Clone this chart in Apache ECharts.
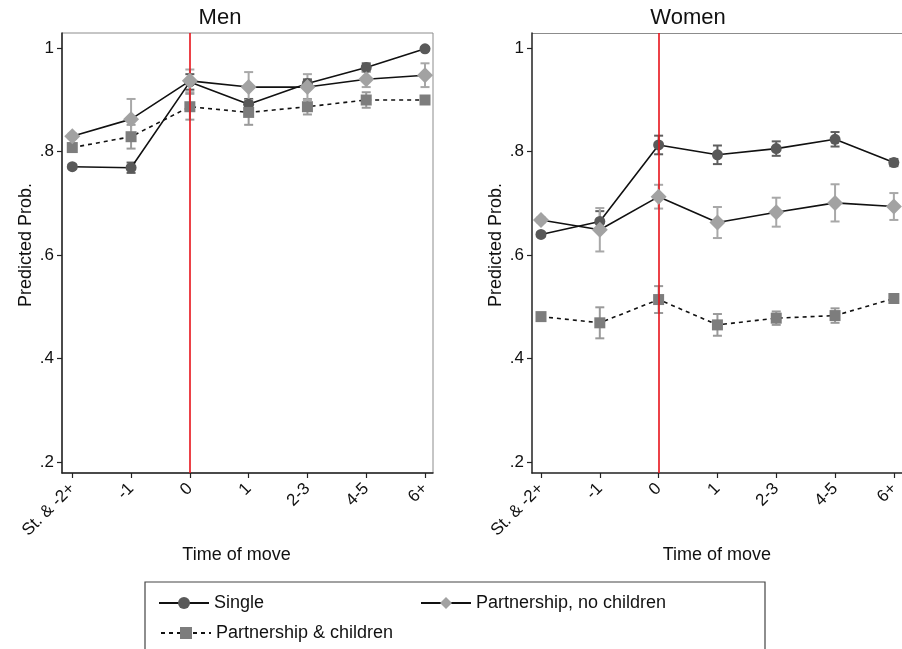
<!DOCTYPE html>
<html>
<head>
<meta charset="utf-8">
<title>Predicted probability by time of move</title>
<script src="https://cdn.jsdelivr.net/npm/echarts@6/dist/echarts.min.js"></script>
<style>
  html, body { margin: 0; padding: 0; background: #fff; }
  #chart { width: 902px; height: 649px; }
</style>
</head>
<body>
<div id="chart"></div>
<script>
// Time-of-move categories on the x axis
const categories = ['St. & -2+', '-1', '0', '1', '2-3', '4-5', '6+'];
const moveCategory = '0';
const yTicks = [0.2, 0.4, 0.6, 0.8, 1];

// Men: predicted probabilities and half-widths of the confidence intervals
const menSingle = [0.771, 0.769, 0.935, 0.892, 0.932, 0.963, 0.999];
const menSingleErr = [0.004, 0.010, 0.015, 0.010, 0.008, 0.008, 0.003];
const menNoChildren = [0.830, 0.863, 0.937, 0.925, 0.925, 0.940, 0.948];
const menNoChildrenErr = [0.005, 0.039, 0.022, 0.029, 0.025, 0.015, 0.023];
const menChildren = [0.808, 0.829, 0.887, 0.876, 0.887, 0.900, 0.900];
const menChildrenErr = [0.005, 0.023, 0.025, 0.024, 0.015, 0.015, 0.005];

// Women
const womenSingle = [0.640, 0.665, 0.813, 0.794, 0.806, 0.824, 0.779];
const womenSingleErr = [0.004, 0.020, 0.018, 0.018, 0.014, 0.014, 0.007];
const womenNoChildren = [0.668, 0.649, 0.713, 0.663, 0.683, 0.701, 0.694];
const womenNoChildrenErr = [0.005, 0.042, 0.023, 0.030, 0.028, 0.036, 0.026];
const womenChildren = [0.481, 0.469, 0.514, 0.465, 0.478, 0.483, 0.516];
const womenChildrenErr = [0.004, 0.030, 0.026, 0.021, 0.013, 0.014, 0.005];

const FONT = '"Liberation Sans", Arial, Helvetica, sans-serif';
const INK = '#111111';
const FRAME = '#8c8c8c';

const NAMES = {
  single: 'Single',
  noChildren: 'Partnership, no children',
  children: 'Partnership & children'
};
const STYLE = {
  single: { symbol: 'circle', size: 11, fill: '#595959', bar: '#5e5e5e', line: 'solid' },
  noChildren: { symbol: 'diamond', size: 16, fill: '#a2a2a2', bar: '#a8a8a8', line: 'solid' },
  children: { symbol: 'rect', size: 11, fill: '#7d7d7d', bar: '#9a9a9a', line: [4, 4] }
};

function pairs(values) {
  return values.map((v, i) => [i, v]);
}

function bounds(values, errs) {
  return values.map((v, i) => [i, v - errs[i], v + errs[i]]);
}

// Vertical CI bar with caps
function errorBar(color) {
  return function (params, api) {
    const x = api.value(0);
    const lo = api.coord([x, api.value(1)]);
    const hi = api.coord([x, api.value(2)]);
    const cap = 4.5;
    const s = { stroke: color, lineWidth: 2 };
    return {
      type: 'group',
      children: [
        { type: 'line', shape: { x1: lo[0], y1: lo[1], x2: hi[0], y2: hi[1] }, style: s },
        { type: 'line', shape: { x1: lo[0] - cap, y1: lo[1], x2: lo[0] + cap, y2: lo[1] }, style: s },
        { type: 'line', shape: { x1: hi[0] - cap, y1: hi[1], x2: hi[0] + cap, y2: hi[1] }, style: s }
      ]
    };
  };
}

function lineSeries(key, values, axisIndex, z) {
  const st = STYLE[key];
  return {
    name: NAMES[key],
    type: 'line',
    xAxisIndex: axisIndex,
    yAxisIndex: axisIndex,
    data: pairs(values),
    symbol: st.symbol,
    symbolSize: st.size,
    showAllSymbol: true,
    itemStyle: { color: st.fill, borderWidth: 0 },
    lineStyle: { color: INK, width: 1.6, type: st.line },
    emphasis: { disabled: true },
    z: z
  };
}

function errSeries(key, values, errs, axisIndex) {
  return {
    type: 'custom',
    xAxisIndex: axisIndex,
    yAxisIndex: axisIndex,
    data: bounds(values, errs),
    encode: { x: 0, y: [1, 2] },
    renderItem: errorBar(STYLE[key].bar),
    silent: true,
    z: 2
  };
}

// Red reference line at the year of the move
function moveLine(axisIndex) {
  return {
    type: 'line',
    xAxisIndex: axisIndex,
    yAxisIndex: axisIndex,
    data: [],
    silent: true,
    z: 1,
    markLine: {
      silent: true,
      symbol: 'none',
      label: { show: false },
      lineStyle: { color: '#e8121a', width: 1.6, type: 'solid' },
      data: [{ xAxis: categories.indexOf(moveCategory) }],
      animation: false
    }
  };
}

function xAxis(gridIndex, min, max, namePad) {
  return {
    type: 'value',
    gridIndex: gridIndex,
    min: min,
    max: max,
    name: 'Time of move',
    nameLocation: 'middle',
    nameGap: 52,
    nameTextStyle: { fontSize: 18, color: INK, fontFamily: FONT, padding: namePad },
    axisLine: { show: true, onZero: false, lineStyle: { color: '#222', width: 1.5 } },
    axisTick: { show: true, length: 5, lineStyle: { color: '#222', width: 1.2 }, customValues: [0, 1, 2, 3, 4, 5, 6] },
    axisLabel: {
      rotate: 45,
      fontSize: 17,
      color: INK,
      fontFamily: FONT,
      margin: 13,
      customValues: [0, 1, 2, 3, 4, 5, 6],
      formatter: v => categories[Math.round(v)]
    },
    splitLine: { show: false }
  };
}

function yAxis(gridIndex) {
  return {
    type: 'value',
    gridIndex: gridIndex,
    min: 0.1785,
    max: 1.0296,
    name: 'Predicted Prob.',
    nameLocation: 'middle',
    nameGap: 27,
    nameRotate: 90,
    nameTextStyle: { fontSize: 18, color: INK, fontFamily: FONT, padding: [0, 0, 0, 16] },
    axisLine: { show: true, onZero: false, lineStyle: { color: '#222', width: 1.5 } },
    axisTick: { show: true, length: 5, lineStyle: { color: '#222', width: 1.2 }, customValues: yTicks },
    axisLabel: {
      fontSize: 17,
      color: INK,
      fontFamily: FONT,
      margin: 8,
      customValues: yTicks,
      formatter: v => (Math.abs(v - 1) < 1e-9 ? '1' : '.' + Math.round(v * 10))
    },
    splitLine: { show: false }
  };
}

function legendItem(name, left, top) {
  return {
    data: [name],
    left: left,
    top: top,
    orient: 'horizontal',
    padding: 0,
    itemWidth: 50,
    itemHeight: 15,
    selectedMode: false,
    textStyle: { fontSize: 18, color: INK, fontFamily: FONT }
  };
}

const chart = echarts.init(document.getElementById('chart'), null, { renderer: 'canvas' });

chart.setOption({
  animation: false,
  backgroundColor: '#ffffff',
  textStyle: { fontFamily: FONT },
  grid: [
    { left: 62, top: 33, width: 371, height: 440, show: true, borderColor: FRAME, borderWidth: 1, containLabel: false },
    { left: 532, top: 33, width: 370, height: 440, show: false, containLabel: false }
  ],
  xAxis: [xAxis(0, -0.175, 6.136, [0, 22, 0, 0]), xAxis(1, -0.153, 6.136, [0, 0, 0, 0])],
  yAxis: [yAxis(0), yAxis(1)],
  legend: [
    legendItem(NAMES.single, 158, 594),
    legendItem(NAMES.noChildren, 420, 594),
    legendItem(NAMES.children, 160, 624)
  ],
  graphic: [
    { type: 'text', x: 220, y: 18, style: { text: 'Men', fill: INK, font: '22px ' + FONT, textAlign: 'center', textVerticalAlign: 'middle' } },
    { type: 'text', x: 688, y: 18, style: { text: 'Women', fill: INK, font: '22px ' + FONT, textAlign: 'center', textVerticalAlign: 'middle' } },
    { type: 'line', shape: { x1: 532, y1: 33.5, x2: 902, y2: 33.5 }, style: { stroke: FRAME, lineWidth: 1 }, silent: true },
    { type: 'rect', shape: { x: 145, y: 582, width: 620, height: 90 }, style: { fill: 'none', stroke: '#444', lineWidth: 1.2 }, silent: true }
  ],
  series: [
    moveLine(0),
    moveLine(1),
    errSeries('single', menSingle, menSingleErr, 0),
    errSeries('children', menChildren, menChildrenErr, 0),
    errSeries('noChildren', menNoChildren, menNoChildrenErr, 0),
    errSeries('single', womenSingle, womenSingleErr, 1),
    errSeries('children', womenChildren, womenChildrenErr, 1),
    errSeries('noChildren', womenNoChildren, womenNoChildrenErr, 1),
    lineSeries('single', menSingle, 0, 3),
    lineSeries('children', menChildren, 0, 4),
    lineSeries('noChildren', menNoChildren, 0, 5),
    lineSeries('single', womenSingle, 1, 3),
    lineSeries('children', womenChildren, 1, 4),
    lineSeries('noChildren', womenNoChildren, 1, 5)
  ]
});
</script>
</body>
</html>
